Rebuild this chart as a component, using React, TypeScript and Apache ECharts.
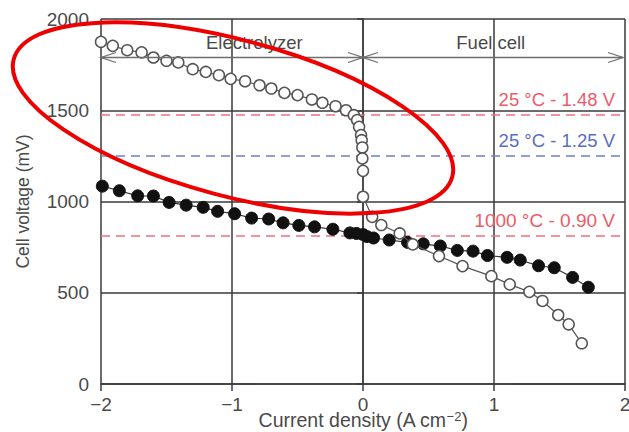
import React, { useEffect, useRef } from "react";
import * as echarts from "echarts";

// 25 °C cell (open circles)
const currentOpen = [
  -2.0, -1.91, -1.8, -1.69, -1.6, -1.5, -1.41, -1.3, -1.2, -1.1, -1.01, -0.9, -0.79, -0.7,
  -0.6, -0.5, -0.39, -0.31, -0.21, -0.13, -0.07, -0.045, -0.03, -0.015, -0.01, -0.005,
  -0.005, 0.0, 0.0, 0.07, 0.14, 0.28, 0.38, 0.58, 0.76, 0.98, 1.12, 1.27, 1.37, 1.49, 1.57, 1.67,
];
const voltageOpen = [
  1875, 1853, 1829, 1817, 1789, 1771, 1762, 1725, 1710, 1692, 1672, 1659, 1637, 1619,
  1595, 1583, 1559, 1541, 1522, 1500, 1473, 1446, 1409, 1364, 1336, 1296,
  1236, 1168, 1026, 916, 871, 825, 765, 701, 646, 591, 546, 505, 455, 378, 327, 223,
];

// 1000 °C cell (filled circles)
const currentFilled = [
  -1.99, -1.86, -1.72, -1.6, -1.48, -1.35, -1.22, -1.11, -0.98, -0.85, -0.72, -0.61, -0.49,
  -0.37, -0.23, -0.1, -0.05, 0.0, 0.03, 0.08, 0.2, 0.34, 0.46, 0.59, 0.72, 0.84, 0.95,
  1.1, 1.2, 1.34, 1.46, 1.6, 1.72,
];
const voltageFilled = [
  1084, 1059, 1031, 1030, 995, 980, 968, 946, 933, 909, 904, 883, 869,
  861, 848, 828, 825, 819, 808, 800, 789, 776, 768, 756, 732, 728, 704,
  694, 679, 648, 637, 584, 530,
];

// thermoneutral / reversible reference voltages
const refValues = [1475, 1250, 810];
const refLabels = ["25 °C - 1.48 V", "25 °C - 1.25 V", "1000 °C - 0.90 V"];
const refColors = ["#ee5a68", "#5b6cc4", "#ee5a68"];
const refLineColors = ["#f0707c", "#6f7fcc", "#f0707c"];

const xTicks = [-2, -1, 0, 1, 2];
const yTicks = [0, 500, 1000, 1500, 2000];

const regionLabels = ["Electrolyzer", "Fuel cell"];
const regionLabelX = [-0.83, 0.975];
const regionLabelY = 1873;
const arrowV = 1789;
const regionSpans = [
  [-2, 0],
  [0, 2],
];

const TEXT = "#4a4a4a";
const FONT = "Liberation Sans, Arial, sans-serif";

export default function App() {
  const ref = useRef<HTMLDivElement>(null);
  useEffect(() => {
    if (!ref.current) return;
    const chart = echarts.init(ref.current, null, { renderer: "svg" });
    const openData = currentOpen.map((x, i) => [x, voltageOpen[i]]);
    const filledData = currentFilled.map((x, i) => [x, voltageFilled[i]]);
    chart.setOption({
      animation: false,
      textStyle: { fontFamily: FONT },
      grid: { left: 101, right: 4, top: 19, bottom: 48, outerBoundsMode: "none", containLabel: false },
      xAxis: {
        type: "value",
        min: xTicks[0],
        max: xTicks[xTicks.length - 1],
        interval: 1,
        name: "Current density (A cm{sup|−2})",
        nameLocation: "middle",
        nameGap: 26,
        nameMoveOverlap: false,
        nameTextStyle: {
          fontSize: 19.5,
          color: TEXT,
          fontFamily: FONT,
          rich: { sup: { fontSize: 13, color: TEXT, verticalAlign: "top", fontFamily: FONT } },
        },
        axisLine: { show: true, onZero: false, lineStyle: { color: "#3a3a3a", width: 1.5 } },
        axisTick: { show: true, length: 7, lineStyle: { color: "#3a3a3a", width: 1.5 } },
        axisLabel: {
          fontSize: 19,
          color: TEXT,
          margin: 11,
          fontFamily: FONT,
          formatter: (v: number) => String(v).replace("-", "−"),
        },
        splitLine: { show: true, lineStyle: { color: "#3a3a3a", width: 1.5 } },
      },
      yAxis: {
        type: "value",
        min: yTicks[0],
        max: yTicks[yTicks.length - 1],
        interval: 500,
        name: "Cell voltage (mV)",
        nameLocation: "middle",
        nameRotate: 90,
        nameGap: 69,
        nameMoveOverlap: false,
        nameTextStyle: { fontSize: 17.5, color: TEXT, fontFamily: FONT },
        axisLine: { show: true, lineStyle: { color: "#3a3a3a", width: 1.5 } },
        axisTick: { show: true, length: 6, lineStyle: { color: "#3a3a3a", width: 1.5 } },
        axisLabel: {
          fontSize: 19,
          color: TEXT,
          margin: 12,
          fontFamily: FONT,
          formatter: (v: number) => String(v),
        },
        splitLine: { show: true, lineStyle: { color: "#3a3a3a", width: 1.5 } },
      },
      series: [
        {
          type: "line",
          data: openData,
          symbol: "circle",
          symbolSize: 11,
          showAllSymbol: true,
          lineStyle: { color: "#555", width: 1.2 },
          itemStyle: { color: "#fff", borderColor: "#555", borderWidth: 1.5 },
          z: 4,
          markLine: {
            silent: true,
            symbol: "none",
            z: 2,
            data: refValues.map((v, i) => ({
              yAxis: v,
              lineStyle: { color: refLineColors[i], type: [9, 6], width: 1.5 },
              label: {
                show: true,
                formatter: refLabels[i],
                position: "insideEndTop",
                color: refColors[i],
                fontSize: i === 2 ? 19 : 18.5,
                fontFamily: FONT,
                distance: [10, 6],
              },
            })),
          },
        },
        {
          type: "line",
          data: filledData,
          symbol: "circle",
          symbolSize: 12,
          showAllSymbol: true,
          lineStyle: { color: "#333", width: 1.2 },
          itemStyle: { color: "#111", borderColor: "#111", borderWidth: 1 },
          z: 3,
        },
      ],
    });

    const p = (x: number, y: number) => chart.convertToPixel({ gridIndex: 0 }, [x, y]) as number[];
    const graphics: any[] = [];
    regionLabels.forEach((t, i) => {
      const [px, py] = p(regionLabelX[i], regionLabelY);
      graphics.push({
        type: "text",
        x: px,
        y: py,
        style: {
          text: t,
          fill: TEXT,
          font: `18.5px ${FONT}`,
          textAlign: "center",
          textVerticalAlign: "middle",
        },
        z: 10,
      });
    });
    const ah = 15;
    const aw = 5;
    regionSpans.forEach(([a, b]) => {
      const [x1, yy] = p(a, arrowV);
      const [x2] = p(b, arrowV);
      const r = x2 - (b === 2 ? 2 : 0);
      const stroke = { stroke: "#6e6e6e", lineWidth: 1.3, fill: "none" };
      graphics.push({ type: "line", shape: { x1: x1, y1: yy, x2: r, y2: yy }, style: stroke, z: 10 });
      graphics.push({
        type: "polyline",
        shape: { points: [[x1 + ah, yy - aw], [x1, yy], [x1 + ah, yy + aw]] },
        style: stroke,
        z: 10,
      });
      graphics.push({
        type: "polyline",
        shape: { points: [[r - ah, yy - aw], [r, yy], [r - ah, yy + aw]] },
        style: stroke,
        z: 10,
      });
    });
    // red hand-drawn style annotation ellipse
    graphics.push({
      type: "ellipse",
      x: 233,
      y: 118,
      rotation: -0.262,
      shape: { cx: 0, cy: 0, rx: 227, ry: 78 },
      style: { stroke: "#ee0000", lineWidth: 4, fill: "none" },
      z: 20,
    });
    chart.setOption({ graphic: graphics });

    return () => chart.dispose();
  }, []);
  return (
    <div
      ref={ref}
      style={{ position: "absolute", left: 0, top: 0, width: 629, height: 432 }}
    />
  );
}
